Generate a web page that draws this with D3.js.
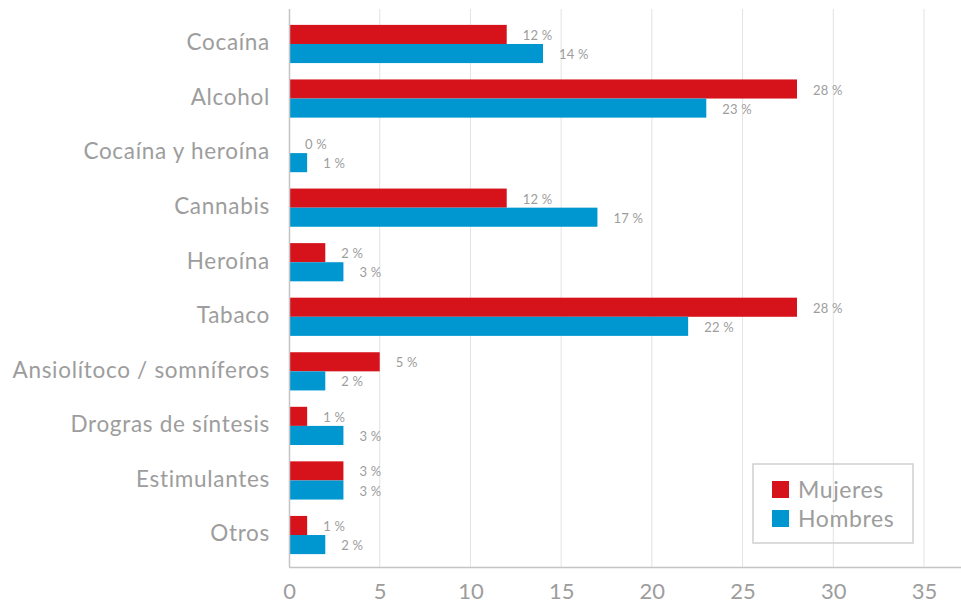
<!DOCTYPE html>
<html>
<head>
<meta charset="utf-8">
<script src="https://cdn.jsdelivr.net/npm/d3@7"></script>
<style>
  html, body { margin: 0; padding: 0; background: #fff; }
  svg { display: block; font-family: Lato, "Open Sans", sans-serif; }
</style>
</head>
<body>
<svg id="chart" width="961" height="605"></svg>
<script>
// Consumption by substance, percentage by sex
const categories = ["Cocaína", "Alcohol", "Cocaína y heroína", "Cannabis", "Heroína",
  "Tabaco", "Ansiolítoco / somníferos", "Drogras de síntesis", "Estimulantes", "Otros"];
const mujeres = [12, 28, 0, 12, 2, 28, 5, 1, 3, 1];
const hombres = [14, 23, 1, 17, 3, 22, 2, 3, 3, 2];
const seriesNames = ["Mujeres", "Hombres"];
const seriesColors = ["#d6121a", "#0097d0"];
const xTicks = [0, 5, 10, 15, 20, 25, 30, 35];

const svg = d3.select("#chart");
const W = 961;
const plotTop = 9, plotBottom = 567, x0 = 289;
const textGray = "#9d9d9d";

const x = d3.scaleLinear().domain([0, 35]).range([x0, 924]);
const y = d3.scaleBand().domain(categories).range([16.7, 562.3])
  .paddingInner(0.3).paddingOuter(0.15);
const ySub = d3.scaleBand().domain(seriesNames).range([0, y.bandwidth()]);

// gridlines
svg.append("g").selectAll("line").data(xTicks.filter(d => d > 0)).join("line")
  .attr("x1", d => x(d)).attr("x2", d => x(d))
  .attr("y1", plotTop).attr("y2", plotBottom)
  .attr("stroke", "#e3e3e3").attr("stroke-width", 1);

// bars with value labels
const rows = categories.map((c, i) => ({ c, vals: [mujeres[i], hombres[i]] }));
const g = svg.append("g");
rows.forEach(r => {
  r.vals.forEach((v, j) => {
    const yy = y(r.c) + ySub(seriesNames[j]);
    g.append("rect")
      .attr("x", x(0)).attr("y", yy)
      .attr("width", x(v) - x(0)).attr("height", ySub.bandwidth())
      .attr("fill", seriesColors[j]);
    g.append("text")
      .attr("x", x(v) + 16).attr("y", yy + ySub.bandwidth() / 2 + 1)
      .attr("dy", "0.35em")
      .attr("font-size", 13).attr("letter-spacing", 0.2).attr("fill", textGray)
      .text(v + " %");
  });
});

// left axis line
svg.append("line").attr("x1", x0 + 0.5).attr("x2", x0 + 0.5)
  .attr("y1", plotTop).attr("y2", plotBottom)
  .attr("stroke", "#c4c4c4").attr("stroke-width", 1.5);

// category labels
const yAxis = d3.axisLeft(y).tickSize(0).tickPadding(19);
svg.append("g").attr("transform", `translate(${x0},0)`).call(yAxis)
  .call(a => a.select(".domain").remove())
  .call(a => a.selectAll("text").attr("font-size", 22.5).attr("fill", textGray)
    .attr("letter-spacing", 0.7).attr("dy", "0.28em")
    .attr("font-family", "Lato, 'Open Sans', sans-serif"));

// bottom axis
const xAxis = d3.axisBottom(x).tickValues(xTicks).tickSize(0).tickPadding(16);
svg.append("g").attr("transform", `translate(0,${plotBottom})`).call(xAxis)
  .call(a => a.select(".domain").remove())
  .call(a => a.selectAll("text").attr("font-size", 22).attr("fill", textGray)
    .attr("font-family", "Lato, 'Open Sans', sans-serif"));
svg.append("line").attr("x1", x0).attr("x2", W)
  .attr("y1", plotBottom + 0.5).attr("y2", plotBottom + 0.5)
  .attr("stroke", "#c4c4c4").attr("stroke-width", 1.5);

// legend
const lg = svg.append("g").attr("transform", "translate(753,464)");
lg.append("rect").attr("width", 160).attr("height", 79)
  .attr("fill", "none").attr("stroke", "#cfcfcf").attr("stroke-width", 1.5);
seriesNames.forEach((n, i) => {
  lg.append("rect").attr("x", 19).attr("y", 17 + i * 29)
    .attr("width", 17).attr("height", 17).attr("fill", seriesColors[i]);
  lg.append("text").attr("x", 45).attr("y", 26 + i * 29).attr("dy", "0.35em")
    .attr("font-size", 23).attr("letter-spacing", 0.6).attr("fill", textGray).text(n);
});
</script>
</body>
</html>
